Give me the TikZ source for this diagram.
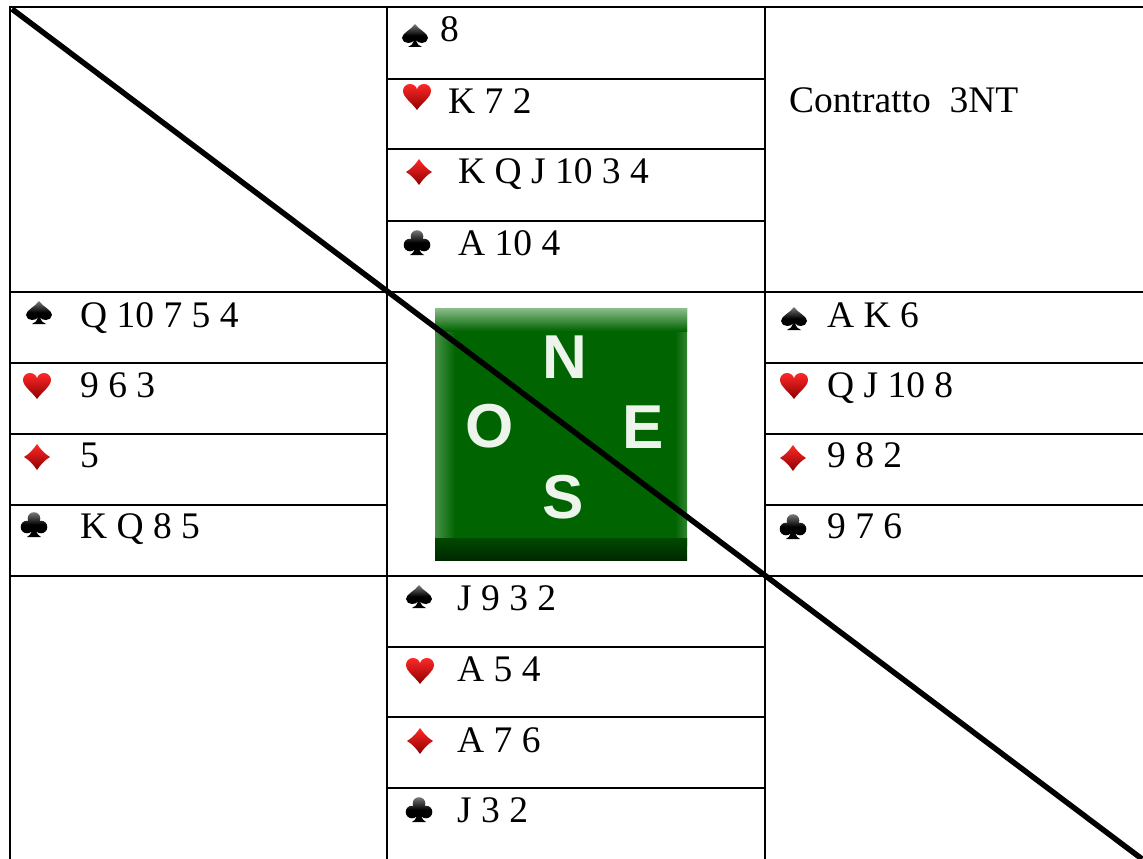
\documentclass[tikz,border=0pt]{standalone}
\usepackage{fontspec}
\setmainfont{Liberation Serif}
\newfontfamily\compfont{Liberation Sans}
\definecolor{redtop}{RGB}{255,40,40}
\definecolor{redbot}{RGB}{140,0,0}
\definecolor{blacktop}{RGB}{120,120,120}
\definecolor{compgreen}{RGB}{0,100,0}
\definecolor{bevlight}{RGB}{140,190,140}
\definecolor{bevmid}{RGB}{70,145,70}
\definecolor{bevdark}{RGB}{0,40,0}
\definecolor{letterface}{RGB}{236,244,236}
\begin{document}
\begin{tikzpicture}[x=1pt,y=-1pt,
  grid/.style={line width=2.8pt, line join=miter},
  cardtxt/.style={anchor=base west, inner sep=0pt, font=\fontsize{37.5}{37.5}\selectfont},
  completter/.style={anchor=center, inner sep=0pt, font=\compfont\bfseries\fontsize{62}{62}\selectfont, text=letterface},
  blackfill/.style={top color=blacktop, bottom color=black, middle color=black},
  redfill/.style={top color=redtop, bottom color=redbot},
  spadepic/.pic={
    \shade[blackfill] (0,-12) .. controls (-4,-6) and (-13,-3) .. (-13,2)
      .. controls (-13,5) and (-10,7) .. (-7,7) .. controls (-4,7) and (-2,6) .. (-1,4)
      .. controls (-2,8) and (-4,10) .. (-7,11) -- (7,11)
      .. controls (4,10) and (2,8) .. (1,4) .. controls (2,6) and (4,7) .. (7,7)
      .. controls (10,7) and (13,5) .. (13,2) .. controls (13,-3) and (4,-6) .. (0,-12) -- cycle;
  },
  heartpic/.pic={
    \shade[redfill] (0,13) .. controls (-5,6) and (-14,0) .. (-14,-6)
      .. controls (-14,-10) and (-11,-13) .. (-7,-13) .. controls (-3,-13) and (0,-10) .. (0,-7)
      .. controls (0,-10) and (3,-13) .. (7,-13) .. controls (11,-13) and (14,-10) .. (14,-6)
      .. controls (14,0) and (5,6) .. (0,13) -- cycle;
  },
  diamondpic/.pic={
    \shade[redfill] (0,-13) .. controls (4,-7) and (8,-3) .. (13,0)
      .. controls (8,3) and (4,7) .. (0,13) .. controls (-4,7) and (-8,3) .. (-13,0)
      .. controls (-8,-3) and (-4,-7) .. (0,-13) -- cycle;
  },
  clubpic/.pic={
    \shade[blackfill] (0,-6.5) circle (6.3) (-7,2) circle (6.3) (7,2) circle (6.3)
      (-2,-1) -- (2,-1) -- (2,6) .. controls (3,9) and (5,11) .. (7,12) -- (-7,12)
      .. controls (-5,11) and (-3,9) .. (-2,6) -- cycle;
  }]
\useasboundingbox (0,0) rectangle (1143,859);

% ---- compass image ----
\fill[compgreen] (435,308) rectangle (687,560);
\shade[left color=bevmid, right color=compgreen] (435,308) rectangle (455,545);
\shade[left color=compgreen, right color=bevmid!70!compgreen] (675,308) rectangle (687,545);
\shade[top color=bevlight, bottom color=compgreen] (435,308) rectangle (687,331);
\shade[top color=compgreen!55!bevdark, bottom color=bevdark] (435,538) rectangle (687,560);
\node[completter] (cN) at (565,357) {N};
\node[completter] (cO) at (490,426) {O};
\node[completter] (cE) at (643,427) {E};
\node[completter] (cS) at (563,497) {S};

% ---- grid ----
\draw[grid] (1143,7) -- (10,7) -- (10,859);
\draw[grid] (387,7) -- (387,859);
\draw[grid] (765,7) -- (765,859);
\draw[grid] (10,292) -- (1143,292);
\draw[grid] (10,576) -- (1143,576);
\foreach \y in {79,149,221,647,717,788} \draw[grid] (387,\y) -- (765,\y);
\foreach \y in {363,434,505} {
  \draw[grid] (10,\y) -- (387,\y);
  \draw[grid] (765,\y) -- (1143,\y);
}

% ---- North ----
\pic (ns) at (415,36) {spadepic};
\node[cardtxt] (nst) at (440,42) {8};
\pic (nh) at (417,97) {heartpic};
\node[cardtxt] (nht) at (448,113) {K 7 2};
\pic (nd) at (419,172) {diamondpic};
\node[cardtxt] (ndt) at (458,183) {K Q J 10 3 4};
\pic (nc) at (417,243) {clubpic};
\node[cardtxt] (nct) at (458,255) {A 10 4};

% ---- contract ----
\node[cardtxt] (contract) at (789,112) {Contratto\ \ 3NT};

% ---- West ----
\pic (ws) at (39,313) {spadepic};
\node[cardtxt] (wst) at (80,327) {Q 10 7 5 4};
\pic (wh) at (37,386) {heartpic};
\node[cardtxt] (wht) at (80,397) {9 6 3};
\pic (wd) at (37,457) {diamondpic};
\node[cardtxt] (wdt) at (80,467) {5};
\pic (wc) at (34,525) {clubpic};
\node[cardtxt] (wct) at (80,538) {K Q 8 5};

% ---- East ----
\pic (es) at (794,319) {spadepic};
\node[cardtxt] (est) at (827,327) {A K 6};
\pic (eh) at (794,386) {heartpic};
\node[cardtxt] (eht) at (827,397) {Q J 10 8};
\pic (ed) at (793,458) {diamondpic};
\node[cardtxt] (edt) at (827,467) {9 8 2};
\pic (ec) at (793,527) {clubpic};
\node[cardtxt] (ect) at (827,538) {9 7 6};

% ---- South ----
\pic (ss) at (419,597) {spadepic};
\node[cardtxt] (sst) at (457,610) {J 9 3 2};
\pic (sh) at (420,671) {heartpic};
\node[cardtxt] (sht) at (457,681) {A 5 4};
\pic (sd) at (420,741) {diamondpic};
\node[cardtxt] (sdt) at (457,752) {A 7 6};
\pic (sc) at (419,810) {clubpic};
\node[cardtxt] (sct) at (457,822) {J 3 2};

% ---- diagonal ----
\coordinate (d1) at (12,9);
\coordinate (d2) at (1142,859);
\draw[line width=5.5pt] (d1) -- (d2);
\end{tikzpicture}
\end{document}
